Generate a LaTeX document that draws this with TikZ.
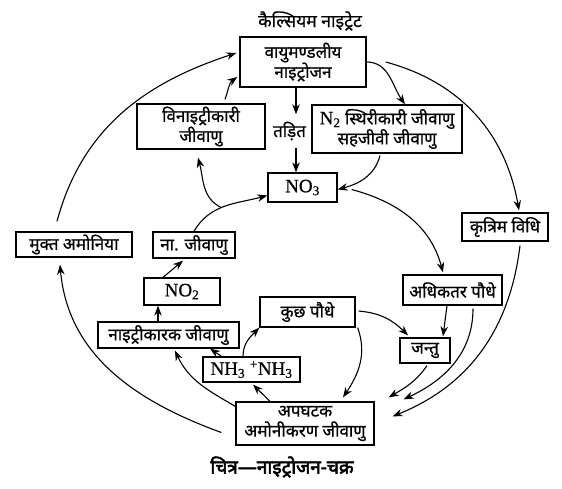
\documentclass[tikz,border=0pt]{standalone}
\usepackage{fontspec}
\setmainfont{Liberation Serif}[FakeBold=0.6]
\newfontfamily\hin[Script=Devanagari, FakeBold=0.8]{Noto Sans}
\newfontfamily\hinb[Script=Devanagari, FakeBold=3]{Noto Sans}
\usetikzlibrary{arrows.meta}
\begin{document}
\begin{tikzpicture}[x=1pt,y=1pt,
  box/.style={draw, line width=1.3pt, inner sep=1pt, align=center,
    font=\hin\fontsize{17}{20}\selectfont},
  lbl/.style={inner sep=0pt, font=\hin\fontsize{17}{20}\selectfont},
  chem/.style={font=\rmfamily\fontsize{19}{21}\selectfont},
  arr/.style={line width=1.1pt, -{Stealth[length=10pt,width=7.5pt]}}]
\useasboundingbox (0,0) rectangle (562,-488);

% boxes
\node[box, minimum width=126, minimum height=50] (A) at (303,-62) {वायुमण्डलीय\\नाइट्रोजन};
\node[box, minimum width=128, minimum height=45] (B) at (201,-126.5) {विनाइट्रीकारी\\जीवाणु};
\node[box, minimum width=150, minimum height=48] (C) at (387,-129) {{\rmfamily\fontsize{19}{21}\selectfont N\textsubscript{2}} स्थिरीकारी जीवाणु\\सहजीवी जीवाणु};
\node[box, chem, minimum width=69, minimum height=29] (D) at (302.5,-187.5) {NO\textsubscript{3}};
\node[box, minimum width=86, minimum height=28] (E) at (505,-227) {कृत्रिम विधि};
\node[box, minimum width=116, minimum height=25] (F) at (74,-244.5) {मुक्त अमोनिया};
\node[box, minimum width=82, minimum height=26] (G) at (194,-245) {ना. जीवाणु};
\node[box, chem, minimum width=76, minimum height=27] (H) at (182,-291.5) {NO\textsubscript{2}};
\node[box, minimum width=99, minimum height=30] (I) at (452.5,-290) {अधिकतर पौधे};
\node[box, minimum width=95, minimum height=30] (J) at (307.5,-312) {कुछ पौधे};
\node[box, minimum width=141, minimum height=26] (K) at (168.5,-335) {नाइट्रीकारक जीवाणु};
\node[box, minimum width=50, minimum height=25] (L) at (425,-350.5) {जन्तु};
\node[box, chem, minimum width=97, minimum height=25] (M) at (251.5,-369.5) {NH\textsubscript{3} \textsuperscript{+}NH\textsubscript{3}};
\node[box, minimum width=138, minimum height=43] (N) at (305,-423.5) {अपघटक\\अमोनीकरण जीवाणु};

% plain labels
\node[lbl, font=\hin\fontsize{17.5}{20}\selectfont] (title) at (310,-21) {कैल्सियम नाइट्रेट};
\node[lbl, minimum height=33] (T) at (289.5,-131) {तड़ित};
\node[lbl, font=\hinb\fontsize{19}{22}\selectfont] (cap) at (282,-467) {चित्र—नाइट्रोजन-चक्र};

% connectors
\coordinate (tx) at (296,0);
\draw[arr] (A.south -| tx) -- (T.north -| tx);
\draw[arr] (T.south -| tx) -- (D.north -| tx);
\draw[arr] (A.east) to[out=0,in=125] ([xshift=18]C.north);
\draw[arr] ([xshift=19]A.east) to[out=-15,in=100] ([xshift=14,yshift=2]E.north);
\draw[arr] ([xshift=-7,yshift=-2]C.south) to[out=-105,in=15] ([yshift=-2]D.east);
\draw[arr] ([xshift=14,yshift=-2]D.east) to[out=-15,in=105] ([xshift=-9.5,yshift=2]I.north);
\draw[arr] (G.north) to[out=60,in=195] coordinate[pos=0.45] (gd) ([yshift=-8]D.west);
\draw[arr] (gd) to[out=155,in=-75] ([xshift=-3,yshift=-8]B.south);
\draw[arr] ([xshift=24,yshift=4]B.north) to[out=70,in=215] ([xshift=-2,yshift=-15]A.west);
\draw[arr] ([xshift=-17,yshift=10]F.north) to[out=75,in=198] ([xshift=-3,yshift=9]A.west);
\draw[arr] ([xshift=-14,yshift=-9]N.west) to[out=160,in=-85] ([xshift=-14,yshift=-7]F.south);
\draw[arr] ([yshift=-5]N.north west) to[out=150,in=-65] ([xshift=6.5,yshift=-2]K.south);
\draw[arr] ([xshift=-30]M.north) -- ([xshift=41.5]K.south);
\draw[arr] ([xshift=-8.5]M.north) to[out=90,in=225] (J.south west);
\draw[arr] ([xshift=-35]N.north) -- ([xshift=1.5,yshift=-2]M.south);
\draw[arr] ([xshift=-10.5]K.north) -- ([xshift=-24]H.south);
\draw[arr] ([xshift=-19]H.north) -- ([xshift=-11,yshift=-2]G.south);
\draw[arr] ([xshift=3,yshift=1]J.east) to[out=-5,in=135] ([xshift=-17,yshift=2]L.north);
\draw[arr] ([xshift=-5.5]I.south) -- ([xshift=18,yshift=1]L.north);
\draw[arr] ([xshift=2]J.south east) to[out=-70,in=56] ([xshift=38,yshift=4]N.north);
\draw[arr] ([xshift=2,yshift=-2]L.south) to[out=-125,in=30] ([xshift=14,yshift=4]N.north east);
\draw[arr] ([xshift=20.5,yshift=-3]I.south) to[out=-90,in=25] ([xshift=29,yshift=2]N.north east);
\draw[arr] ([xshift=15,yshift=-4]E.south) to[out=-97,in=22] ([xshift=18,yshift=-15]N.north east);
\end{tikzpicture}
\end{document}
